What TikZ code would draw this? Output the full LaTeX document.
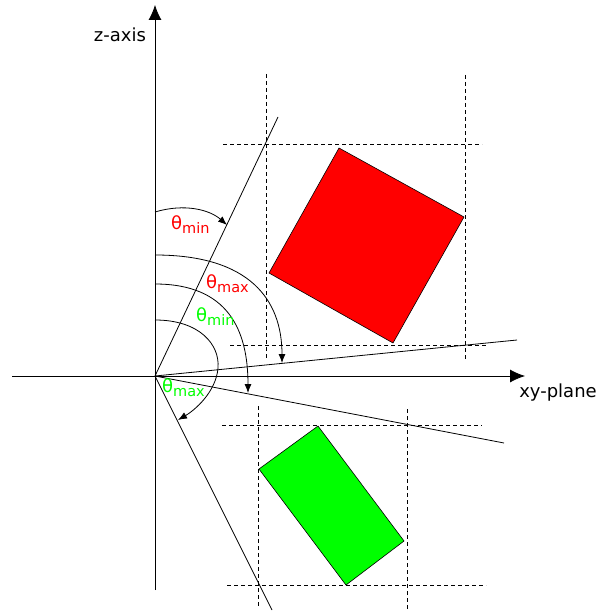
\documentclass[tikz,border=0pt]{standalone}
\usepackage{fontspec}
\setmainfont{DejaVu Sans}
\usetikzlibrary{arrows.meta}
\definecolor{BoxRed}{RGB}{255,0,0}
\definecolor{BoxGreen}{RGB}{0,255,0}
\tikzset{
  bound/.style={dash pattern=on 4pt off 3pt,line width=.6pt},
  ray/.style={line width=.8pt},
  sweep/.style={line width=.8pt,-{Latex[length=9pt,width=7pt]}},
  anglab/.style={anchor=base west,inner sep=0pt},
}
\newcommand{\thsub}[1]{θ\raisebox{-4pt}{\fontsize{14.5}{15}\selectfont #1}}
\begin{document}
\begin{tikzpicture}[x=1pt,y=-1pt,>={Latex[length=15pt,width=13pt]},font=\fontsize{18}{21}\selectfont]
  \useasboundingbox (0,0) rectangle (599,615);
  \coordinate (O) at (155,376);
  \coordinate (zbot) at (155,590);
  \coordinate (ztop) at (155,5);
  \coordinate (xleft) at (12,376);
  \coordinate (xright) at (525,376);
  \coordinate (r1) at (278,117);
  \coordinate (r2) at (517,340);
  \coordinate (r3) at (504,443);
  \coordinate (r4) at (272,610);
  \fill[BoxRed,draw=black,line width=.6pt] (339,148) -- (464,217) -- (393,343) -- (269,273) -- cycle;
  \fill[BoxGreen,draw=black,line width=.6pt] (318,426) -- (404,541) -- (346,585) -- (259,469) -- cycle;
  \draw[bound] (266,74)--(266,359) (465,75)--(465,361) (223,144)--(482,144) (230,345)--(488,345);
  \draw[bound] (258,406)--(258,608) (407,409)--(407,610) (222,425)--(482,425) (227,585)--(486,585);
  \draw[->,line width=.8pt] (zbot) -- (ztop);
  \draw[->,line width=.8pt] (xleft) -- (xright);
  \draw[ray] (O) -- (r1) (O) -- (r2) (O) -- (r3) (O) -- (r4);
  \node (zlab) at (120,35) {z-axis};
  \node (xylab) at (558,393) {xy-plane};
  \draw[sweep] (155,212) .. controls (185,203) and (210,210) .. (227,225);
  \draw[sweep] (155,255) .. controls (250,255) and (282,300) .. (282,363);
  \draw[sweep] (155,284) .. controls (228,284) and (248,330) .. (248,393);
  \draw[sweep] (155,320) .. controls (200,320) and (220,345) .. (218,368) .. controls (216,392) and (195,410) .. (178,420);
  \node[anglab,BoxRed] (minred) at (171,229) {\thsub{min}};
  \node[anglab,BoxRed] (maxred) at (206,288) {\thsub{max}};
  \node[anglab,BoxGreen] (mingreen) at (196,321) {\thsub{min}};
  \node[anglab,BoxGreen] (maxgreen) at (162,392) {\thsub{max}};
\end{tikzpicture}
\end{document}
